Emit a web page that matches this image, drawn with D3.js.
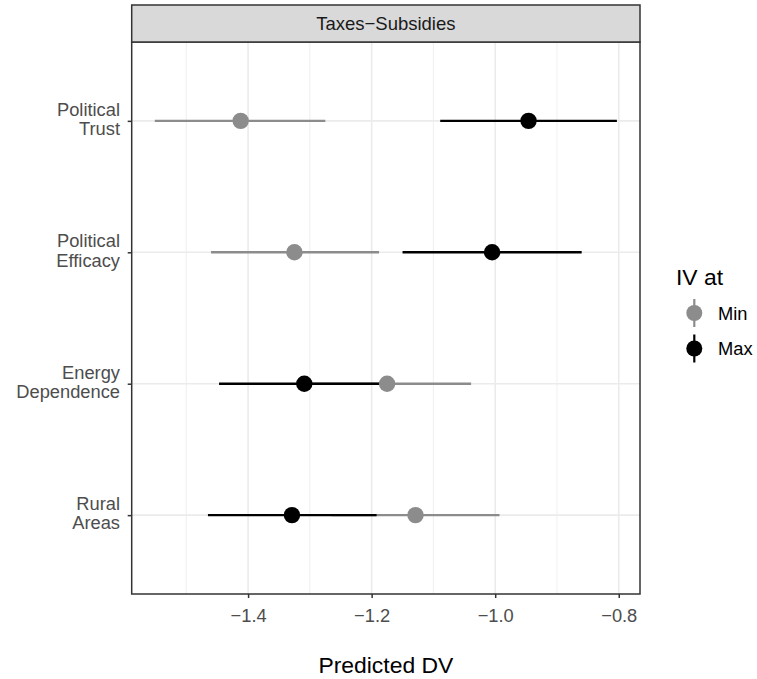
<!DOCTYPE html>
<html>
<head>
<meta charset="utf-8">
<script src="https://cdn.jsdelivr.net/npm/d3@7"></script>
<style>
  body { margin: 0; background: #fff; }
  svg { display: block; font-family: "Liberation Sans", Arial, sans-serif; }
</style>
</head>
<body>
<div id="chart"></div>
<script>
// categories (top to bottom) and the two series
const categories = ["Political\nTrust", "Political\nEfficacy", "Energy\nDependence", "Rural\nAreas"];
const minEst  = [-1.412, -1.325, -1.175, -1.129];
const minLow  = [-1.551, -1.460, -1.311, -1.265];
const minHigh = [-1.275, -1.188, -1.039, -0.993];
const maxEst  = [-0.946, -1.005, -1.309, -1.329];
const maxLow  = [-1.089, -1.150, -1.447, -1.465];
const maxHigh = [-0.803, -0.860, -1.171, -1.192];
const xTicks = [-1.4, -1.2, -1.0, -0.8];
const xMinorTicks = [-1.5, -1.3, -1.1, -0.9];
const seriesNames = ["Min", "Max"];
const seriesColors = ["#8c8c8c", "#000000"];

const width = 757, height = 679;
const panel = { left: 131.7, right: 640, top: 42, bottom: 594 };

const rows = [];
seriesNames.forEach((s, si) => {
    categories.forEach((c, i) => {
        rows.push({
            cat: c, series: si,
            est: si === 0 ? minEst[i] : maxEst[i],
            lo: si === 0 ? minLow[i] : maxLow[i],
            hi: si === 0 ? minHigh[i] : maxHigh[i]
        });
    });
});

const lo = d3.min(rows, d => d.lo), hi = d3.max(rows, d => d.hi);
const pad = (hi - lo) * 0.05;
const x = d3.scaleLinear().domain([lo - pad, hi + pad]).range([panel.left, panel.right]);
const y = d3.scalePoint().domain(categories).range([panel.top, panel.bottom]).padding(0.6);

const svg = d3.select("#chart").append("svg")
    .attr("width", width)
    .attr("height", height);

// grid
const grid = svg.append("g");
grid.selectAll("line.minor")
    .data(xMinorTicks)
    .enter().append("line")
    .attr("x1", d => x(d)).attr("x2", d => x(d))
    .attr("y1", panel.top).attr("y2", panel.bottom)
    .attr("stroke", "#ebebeb").attr("stroke-width", 0.8);
grid.selectAll("line.major")
    .data(xTicks)
    .enter().append("line")
    .attr("x1", d => x(d)).attr("x2", d => x(d))
    .attr("y1", panel.top).attr("y2", panel.bottom)
    .attr("stroke", "#ebebeb").attr("stroke-width", 1.6);
grid.selectAll("line.hmajor")
    .data(categories)
    .enter().append("line")
    .attr("x1", panel.left).attr("x2", panel.right)
    .attr("y1", d => y(d)).attr("y2", d => y(d))
    .attr("stroke", "#ebebeb").attr("stroke-width", 1.6);

// ranges first, then points
svg.append("g").selectAll("line")
    .data(rows)
    .enter().append("line")
    .attr("x1", d => x(d.lo)).attr("x2", d => x(d.hi))
    .attr("y1", d => y(d.cat)).attr("y2", d => y(d.cat))
    .attr("stroke", d => seriesColors[d.series])
    .attr("stroke-width", 2.4);

svg.append("g").selectAll("circle")
    .data(rows)
    .enter().append("circle")
    .attr("cx", d => x(d.est))
    .attr("cy", d => y(d.cat))
    .attr("r", 8.2)
    .attr("fill", d => seriesColors[d.series]);

// panel border
svg.append("rect")
    .attr("x", panel.left).attr("y", panel.top)
    .attr("width", panel.right - panel.left)
    .attr("height", panel.bottom - panel.top)
    .attr("fill", "none").attr("stroke", "#333333").attr("stroke-width", 1.5);

// strip
svg.append("rect")
    .attr("x", panel.left).attr("y", 5)
    .attr("width", panel.right - panel.left)
    .attr("height", panel.top - 5)
    .attr("fill", "#d9d9d9").attr("stroke", "#333333").attr("stroke-width", 1.5);
svg.append("text")
    .attr("x", (panel.left + panel.right) / 2).attr("y", 30)
    .attr("text-anchor", "middle")
    .attr("font-size", 18.5).attr("fill", "#1a1a1a")
    .text("Taxes\u2212Subsidies");

// x axis
const xAxis = svg.append("g")
    .attr("transform", `translate(0,${panel.bottom})`)
    .call(d3.axisBottom(x).tickValues(xTicks).tickSize(4).tickPadding(11)
        .tickFormat(d => d3.format(".1f")(d).replace("-", "\u2212")));
xAxis.select(".domain").remove();
xAxis.selectAll("line").attr("stroke", "#333333").attr("stroke-width", 1.5);
xAxis.selectAll("text").attr("font-size", 18.3).attr("fill", "#4d4d4d")
    .attr("font-family", "Liberation Sans, Arial, sans-serif");

// y axis
const yAxis = svg.append("g")
    .attr("transform", `translate(${panel.left},0)`)
    .call(d3.axisLeft(y).tickSize(4).tickFormat(""));
yAxis.select(".domain").remove();
yAxis.selectAll("line").attr("stroke", "#333333").attr("stroke-width", 1.5);

const yLab = svg.append("g").selectAll("text")
    .data(categories)
    .enter().append("text")
    .attr("text-anchor", "end")
    .attr("font-size", 18.3).attr("fill", "#4d4d4d");
yLab.each(function(d) {
    const parts = d.split("\n");
    d3.select(this).selectAll("tspan")
        .data(parts)
        .enter().append("tspan")
        .attr("x", 120)
        .attr("y", (p, i) => y(d) - 5 + i * 19.3)
        .text(p => p);
});

// x title
svg.append("text")
    .attr("x", (panel.left + panel.right) / 2).attr("y", 673)
    .attr("text-anchor", "middle")
    .attr("font-size", 22.9).attr("fill", "#000")
    .text("Predicted DV");

// legend
const legend = svg.append("g");
legend.append("text")
    .attr("x", 676).attr("y", 285)
    .attr("font-size", 22.9).attr("fill", "#000")
    .text("IV at");
const keyY = [313, 348.5];
seriesNames.forEach((s, i) => {
    legend.append("line")
        .attr("x1", 694.3).attr("x2", 694.3)
        .attr("y1", keyY[i] - 14).attr("y2", keyY[i] + 14)
        .attr("stroke", seriesColors[i]).attr("stroke-width", 2.2);
    legend.append("circle")
        .attr("cx", 694.3).attr("cy", keyY[i]).attr("r", 8)
        .attr("fill", seriesColors[i]);
    legend.append("text")
        .attr("x", 718).attr("y", keyY[i] + 6.5)
        .attr("font-size", 18.3).attr("fill", "#000")
        .text(s);
});
</script>
</body>
</html>
